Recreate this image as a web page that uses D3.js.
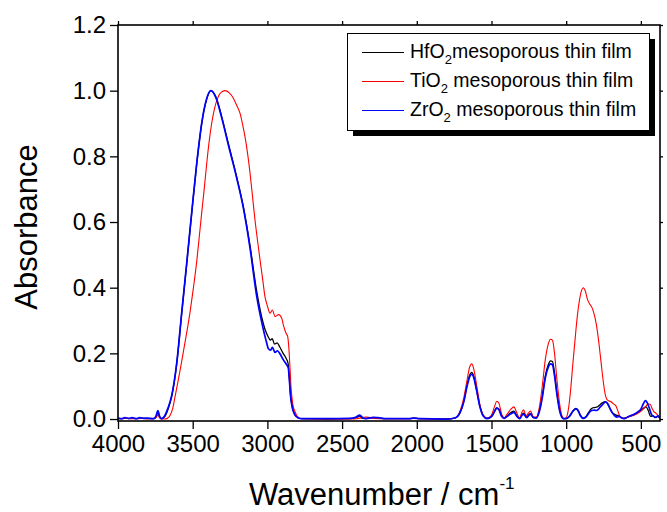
<!DOCTYPE html>
<html>
<head>
<meta charset="utf-8">
<script src="https://cdn.jsdelivr.net/npm/d3@7/dist/d3.min.js"></script>
<style>
  html, body { margin: 0; padding: 0; background: #fff; }
  svg { display: block; font-family: "Liberation Sans", Arial, Helvetica, sans-serif; }
</style>
</head>
<body>
<svg id="chart" width="667" height="512"></svg>
<script>
// FTIR absorbance spectra of mesoporous oxide thin films: [wavenumber (cm-1), absorbance]
const hfo2 = [[4000,0.002],[3975,0.001],[3950,0.003],[3925,0.001],[3900,0.003],[3870,0.001],[3840,0.003],[3810,0.001],[3780,0.002],[3758,0.001],[3745,0.007],[3733,0.02],[3722,0.007],[3710,0.001],[3697,0.003],[3685,0.009],[3665,0.03],[3641,0.068],[3607,0.168],[3574,0.32],[3540,0.473],[3507,0.625],[3473,0.777],[3440,0.899],[3406,0.975],[3378,1.0],[3344,0.98],[3306,0.921],[3262,0.84],[3206,0.738],[3161,0.647],[3116,0.527],[3072,0.39],[3038,0.31],[3015,0.272],[2994,0.25],[2980,0.24],[2968,0.245],[2952,0.228],[2935,0.232],[2918,0.22],[2895,0.2],[2875,0.185],[2862,0.17],[2853,0.125],[2845,0.075],[2832,0.035],[2815,0.013],[2795,0.004],[2770,0.001],[2600,0.0],[2450,0.001],[2405,0.004],[2382,0.009],[2365,0.002],[2340,0.002],[2300,0.004],[2270,0.003],[2200,0.001],[2050,0.001],[2020,0.003],[1980,0.001],[1800,0.0],[1745,0.003],[1710,0.02],[1685,0.055],[1665,0.1],[1645,0.135],[1632,0.142],[1620,0.132],[1600,0.09],[1578,0.04],[1555,0.01],[1530,0.002],[1500,0.008],[1478,0.025],[1465,0.034],[1450,0.03],[1432,0.01],[1415,0.003],[1395,0.01],[1370,0.02],[1350,0.024],[1330,0.01],[1312,0.002],[1295,0.014],[1285,0.018],[1265,0.006],[1250,0.013],[1238,0.017],[1220,0.005],[1200,0.004],[1180,0.025],[1160,0.07],[1140,0.13],[1120,0.165],[1105,0.177],[1092,0.175],[1078,0.14],[1062,0.08],[1045,0.03],[1028,0.006],[1015,0.001],[995,0.002],[975,0.01],[955,0.024],[935,0.032],[922,0.028],[905,0.012],[885,0.003],[870,0.006],[850,0.02],[830,0.032],[812,0.035],[795,0.036],[775,0.043],[755,0.05],[740,0.053],[725,0.048],[710,0.035],[695,0.022],[680,0.015],[665,0.012],[650,0.01],[635,0.005],[618,0.002],[600,0.004],[580,0.008],[560,0.01],[540,0.014],[520,0.02],[500,0.026],[482,0.033],[465,0.037],[450,0.025],[435,0.008],[420,0.01],[405,0.004],[390,0.008],[372,0.002]];

const tio2 = [[4000,0.001],[3950,0.002],[3900,0.001],[3850,0.002],[3800,0.001],[3758,0.001],[3745,0.004],[3733,0.012],[3722,0.004],[3710,0.0],[3690,0.0],[3670,0.002],[3650,0.012],[3635,0.03],[3618,0.068],[3596,0.12],[3574,0.175],[3545,0.25],[3518,0.325],[3495,0.4],[3473,0.48],[3456,0.555],[3440,0.627],[3423,0.7],[3406,0.779],[3390,0.845],[3373,0.9],[3354,0.945],[3335,0.975],[3310,0.995],[3284,1.0],[3255,0.993],[3228,0.977],[3205,0.955],[3183,0.931],[3165,0.895],[3150,0.86],[3130,0.8],[3116,0.748],[3100,0.68],[3083,0.606],[3065,0.54],[3049,0.484],[3030,0.42],[3016,0.372],[3005,0.352],[2994,0.335],[2983,0.322],[2967,0.332],[2948,0.312],[2925,0.318],[2904,0.307],[2893,0.286],[2875,0.261],[2864,0.251],[2857,0.22],[2849,0.159],[2842,0.098],[2831,0.048],[2815,0.022],[2795,0.006],[2770,0.001],[2600,0.0],[2450,0.0],[2400,0.001],[2340,0.006],[2320,0.005],[2290,0.002],[2200,0.001],[2050,0.001],[2020,0.002],[1980,0.001],[1800,0.0],[1745,0.003],[1710,0.025],[1685,0.065],[1665,0.115],[1645,0.16],[1632,0.168],[1620,0.155],[1600,0.105],[1578,0.045],[1555,0.012],[1530,0.002],[1500,0.012],[1478,0.04],[1465,0.054],[1450,0.048],[1432,0.015],[1415,0.004],[1395,0.015],[1370,0.03],[1350,0.037],[1330,0.018],[1312,0.003],[1295,0.022],[1285,0.028],[1268,0.01],[1252,0.019],[1238,0.024],[1220,0.007],[1200,0.006],[1180,0.035],[1160,0.1],[1140,0.18],[1120,0.228],[1105,0.243],[1092,0.24],[1078,0.2],[1062,0.12],[1045,0.05],[1030,0.012],[1015,0.001],[1000,0.004],[985,0.03],[970,0.09],[955,0.17],[940,0.245],[925,0.315],[910,0.365],[897,0.392],[885,0.4],[872,0.39],[858,0.365],[845,0.352],[828,0.34],[812,0.318],[797,0.285],[782,0.235],[767,0.175],[752,0.115],[740,0.078],[728,0.06],[712,0.055],[697,0.052],[683,0.046],[667,0.04],[652,0.022],[640,0.008],[625,0.004],[605,0.003],[585,0.006],[565,0.009],[545,0.012],[525,0.016],[505,0.022],[485,0.03],[465,0.04],[450,0.046],[438,0.045],[425,0.032],[412,0.022],[400,0.018],[388,0.012],[372,0.006]];

const zro2 = [[4000,0.003],[3975,0.001],[3955,0.004],[3930,0.002],[3905,0.004],[3880,0.001],[3855,0.004],[3830,0.002],[3800,0.003],[3775,0.001],[3758,0.002],[3745,0.01],[3733,0.026],[3722,0.009],[3710,0.001],[3697,0.004],[3685,0.012],[3665,0.034],[3641,0.07],[3607,0.17],[3574,0.322],[3540,0.475],[3507,0.627],[3473,0.779],[3440,0.9],[3406,0.976],[3378,1.0],[3344,0.978],[3306,0.918],[3262,0.836],[3206,0.735],[3161,0.643],[3116,0.52],[3072,0.375],[3038,0.295],[3005,0.232],[2994,0.215],[2978,0.21],[2967,0.218],[2949,0.203],[2933,0.208],[2915,0.198],[2893,0.18],[2871,0.165],[2860,0.155],[2853,0.12],[2845,0.07],[2831,0.03],[2815,0.012],[2795,0.004],[2770,0.001],[2600,0.001],[2450,0.002],[2410,0.005],[2382,0.012],[2360,0.003],[2345,0.001],[2320,0.003],[2290,0.005],[2260,0.004],[2200,0.001],[2050,0.001],[2020,0.003],[1980,0.001],[1800,0.0],[1745,0.003],[1710,0.02],[1685,0.053],[1665,0.097],[1645,0.13],[1632,0.137],[1620,0.128],[1600,0.088],[1578,0.038],[1555,0.009],[1530,0.001],[1500,0.007],[1478,0.024],[1465,0.033],[1450,0.028],[1432,0.008],[1415,0.002],[1395,0.008],[1370,0.016],[1350,0.02],[1330,0.008],[1312,0.001],[1295,0.012],[1285,0.015],[1265,0.004],[1250,0.011],[1238,0.015],[1220,0.004],[1200,0.003],[1180,0.022],[1160,0.065],[1140,0.125],[1120,0.158],[1105,0.168],[1092,0.165],[1078,0.132],[1062,0.075],[1045,0.028],[1028,0.005],[1015,0.001],[995,0.002],[975,0.01],[955,0.024],[935,0.031],[922,0.027],[905,0.01],[885,0.002],[870,0.005],[850,0.017],[830,0.026],[812,0.027],[795,0.026],[775,0.035],[755,0.045],[735,0.052],[720,0.045],[705,0.03],[690,0.018],[675,0.01],[660,0.006],[645,0.008],[630,0.004],[615,0.001],[600,0.003],[580,0.008],[560,0.012],[540,0.016],[520,0.022],[500,0.03],[485,0.045],[470,0.056],[458,0.05],[445,0.035],[430,0.015],[415,0.008],[400,0.005],[385,0.01],[372,0.003]];

const xTicks = [4000, 3500, 3000, 2500, 2000, 1500, 1000, 500];
const yTicks = [0.0, 0.2, 0.4, 0.6, 0.8, 1.0, 1.2];

const seriesNames = ["HfO", "TiO", "ZrO"];
const seriesSuffix = ["mesoporous thin film", " mesoporous thin film", " mesoporous thin film"];
const seriesColors = ["#000000", "#ff0000", "#0000ff"];

const svg = d3.select("#chart");
const plot = { left: 118, right: 660, top: 25, bottom: 421 };

const x = d3.scaleLinear().domain([4000, 372]).range([plot.left, plot.right]);
const y = d3.scaleLinear().domain([-0.006, 1.2]).range([plot.bottom, plot.top]);

svg.append("defs").append("clipPath").attr("id", "plotClip")
  .append("rect")
  .attr("x", plot.left).attr("y", plot.top)
  .attr("width", plot.right - plot.left).attr("height", plot.bottom - plot.top);

// spectra
const line = d3.line()
  .x(d => x(d[0]))
  .y(d => y(d[1]))
  .curve(d3.curveMonotoneX);

const series = [
  { data: hfo2, color: seriesColors[0], width: 1.3 },
  { data: tio2, color: seriesColors[1], width: 1.1 },
  { data: zro2, color: seriesColors[2], width: 1.7 }
];

svg.append("g").attr("clip-path", "url(#plotClip)")
  .selectAll("path")
  .data(series)
  .join("path")
  .attr("d", d => line(d.data))
  .attr("fill", "none")
  .attr("stroke", d => d.color)
  .attr("stroke-width", d => d.width)
  .attr("stroke-linejoin", "round");

// axes
const xAxis = svg.append("g")
  .attr("transform", `translate(0,${plot.bottom})`)
  .call(d3.axisBottom(x).tickValues(xTicks).tickSize(8).tickPadding(6).tickFormat(d3.format("d")));
const yAxis = svg.append("g")
  .attr("transform", `translate(${plot.left},0)`)
  .call(d3.axisLeft(y).tickValues(yTicks).tickSize(8).tickPadding(4).tickFormat(d3.format(".1f")));

// mirrored ticks on top and right
svg.append("g")
  .attr("transform", `translate(0,${plot.top})`)
  .call(d3.axisTop(x).tickValues(xTicks).tickSize(4).tickFormat(""));
svg.append("g")
  .attr("transform", `translate(${plot.right},0)`)
  .call(d3.axisLeft(y).tickValues(yTicks).tickSize(-3).tickFormat(""));

svg.selectAll(".domain").remove();
svg.selectAll(".tick line").attr("stroke", "#000").attr("stroke-width", 1.3);
xAxis.selectAll(".tick text").attr("font-size", 24).attr("fill", "#000");
yAxis.selectAll(".tick text").attr("font-size", 24).attr("fill", "#000");

// frame
svg.append("rect")
  .attr("x", plot.left).attr("y", plot.top)
  .attr("width", plot.right - plot.left).attr("height", plot.bottom - plot.top)
  .attr("fill", "none").attr("stroke", "#000").attr("stroke-width", 1.6);

// axis titles
svg.append("text")
  .attr("transform", "translate(37,227) rotate(-90)")
  .attr("text-anchor", "middle")
  .attr("font-size", 31)
  .attr("fill", "#000")
  .text("Absorbance");

const xt = svg.append("text")
  .attr("x", 249).attr("y", 505)
  .attr("font-size", 31)
  .attr("fill", "#000");
xt.append("tspan").text("Wavenumber / cm");
xt.append("tspan").attr("font-size", 17).attr("dy", -16).text("-1");

// legend
const lg = { x: 347, y: 33, w: 302, h: 97 };
svg.append("rect")
  .attr("x", lg.x + 6).attr("y", lg.y + 6).attr("width", lg.w).attr("height", lg.h)
  .attr("fill", "#000");
svg.append("rect")
  .attr("x", lg.x + 0.5).attr("y", lg.y + 0.5).attr("width", lg.w).attr("height", lg.h)
  .attr("fill", "#fff").attr("stroke", "#000").attr("stroke-width", 1);

const rows = svg.append("g").selectAll("g")
  .data(seriesNames.map((n, i) => ({ name: n, suffix: seriesSuffix[i], color: seriesColors[i] })))
  .join("g")
  .attr("transform", (d, i) => `translate(${lg.x},${lg.y + 19 + i * 29})`);

rows.append("line")
  .attr("x1", 15).attr("x2", 57).attr("y1", 0.5).attr("y2", 0.5)
  .attr("stroke", d => d.color).attr("stroke-width", 1.2);

const lt = rows.append("text")
  .attr("x", 63).attr("y", 6)
  .attr("font-size", 19.5)
  .attr("fill", "#000");
lt.append("tspan").text(d => d.name);
lt.append("tspan").attr("font-size", 13).attr("dy", 6).text("2");
lt.append("tspan").attr("dy", -6).text(d => d.suffix);
</script>
</body>
</html>
